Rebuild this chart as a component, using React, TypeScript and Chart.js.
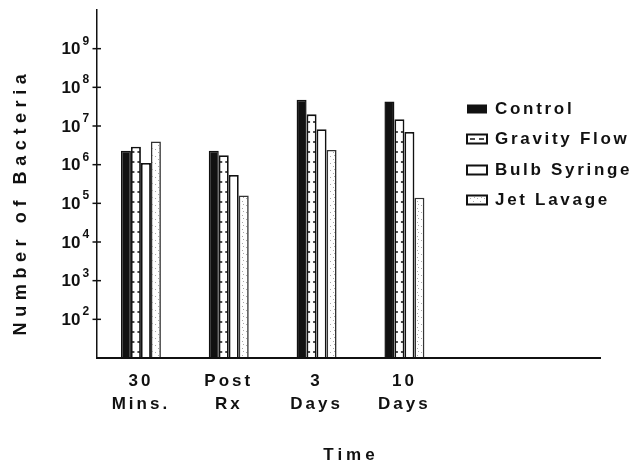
import React, { useEffect, useRef } from 'react';
import { Chart, registerables } from 'chart.js';
Chart.register(...registerables);

const categories: (string | string[])[] = [['30', 'Mins.'], ['Post', 'Rx'], ['3', 'Days'], ['10', 'Days'], '', ''];
const seriesNames = ['Control', 'Gravity Flow', 'Bulb Syringe', 'Jet Lavage'];
const control = [2.3e6, 2.3e6, 4.8e7, 4.3e7];
const gravityFlow = [2.9e6, 1.75e6, 2.0e7, 1.5e7];
const bulbSyringe = [1.1e6, 5.4e5, 8.3e6, 7.0e6];
const jetLavage = [4.0e6, 1.6e5, 2.4e6, 1.4e5];
const yTickExponents = [2, 3, 4, 5, 6, 7, 8, 9];
const yMin = 1e1;
const yMax = 1e10;
const yTitle = 'Number of Bacteria';
const xTitle = 'Time';

const FONT = '"Liberation Sans", Arial, sans-serif';
const INK = '#111';

function makeStipple(): CanvasPattern | string {
  const c = document.createElement('canvas');
  c.width = 7;
  c.height = 7;
  const g = c.getContext('2d');
  if (!g) return '#f3f3f3';
  g.fillStyle = '#ffffff';
  g.fillRect(0, 0, 7, 7);
  g.fillStyle = '#a8a8a8';
  g.fillRect(1, 2, 1, 1);
  g.fillRect(4, 5, 1, 1);
  g.fillRect(5, 1, 1, 1);
  const p = g.createPattern(c, 'repeat');
  return p || '#f3f3f3';
}

const decor = {
  id: 'decor',
  beforeDraw(chart: any) {
    chart.ctx.letterSpacing = '3px';
  },
  afterDatasetsDraw(chart: any) {
    const ctx = chart.ctx;
    const meta = chart.getDatasetMeta(1);
    ctx.save();
    ctx.strokeStyle = INK;
    ctx.lineWidth = 1.6;
    meta.data.forEach((el: any) => {
      const { x, y, base, width } = el.getProps(['x', 'y', 'base', 'width'], true);
      for (let yy = base - 6; yy > y + 5; yy -= 10) {
        ctx.beginPath();
        ctx.moveTo(x - width / 2 + 1, yy);
        ctx.lineTo(x - 1.5, yy);
        ctx.moveTo(x + 1.5, yy);
        ctx.lineTo(x + width / 2 - 1, yy);
        ctx.stroke();
      }
    });
    ctx.restore();
  },
  afterDraw(chart: any) {
    const ctx = chart.ctx;
    const area = chart.chartArea;
    const ys = chart.scales.y;
    ctx.save();
    ctx.letterSpacing = '0px';
    // x axis line (stops short of the right edge)
    ctx.strokeStyle = INK;
    ctx.lineWidth = 2;
    ctx.beginPath();
    ctx.moveTo(area.left - 1, area.bottom);
    ctx.lineTo(601, area.bottom);
    ctx.stroke();
    // y ticks with superscript labels
    ctx.lineWidth = 1.5;
    ctx.fillStyle = INK;
    yTickExponents.forEach((e) => {
      const py = ys.getPixelForValue(Math.pow(10, e));
      ctx.beginPath();
      ctx.moveTo(area.left - 4.5, py);
      ctx.lineTo(area.left + 4, py);
      ctx.stroke();
      ctx.font = `bold 17px ${FONT}`;
      ctx.textAlign = 'right';
      ctx.textBaseline = 'middle';
      ctx.fillText('10', 80.5, py + 1);
      ctx.font = `bold 12px ${FONT}`;
      ctx.textAlign = 'left';
      ctx.textBaseline = 'alphabetic';
      ctx.fillText(String(e), 82.5, py - 4);
    });
    // y title
    ctx.save();
    ctx.translate(21, 202);
    ctx.rotate(-Math.PI / 2);
    ctx.font = `bold 18px ${FONT}`;
    ctx.letterSpacing = '5.6px';
    ctx.textAlign = 'center';
    ctx.textBaseline = 'middle';
    ctx.fillText(yTitle, 0, 0);
    ctx.restore();
    // x title
    ctx.font = `bold 17px ${FONT}`;
    ctx.letterSpacing = '4px';
    ctx.textAlign = 'center';
    ctx.textBaseline = 'middle';
    ctx.fillText(xTitle, 351, 455);
    // legend
    const ly = [109, 139, 170, 200];
    const datasets = chart.data.datasets;
    seriesNames.forEach((name, i) => {
      const cy = ly[i];
      const bx = 467;
      const bw = 20;
      const bh = 9;
      ctx.lineWidth = 2;
      ctx.strokeStyle = INK;
      if (i === 0) {
        ctx.fillStyle = INK;
        ctx.fillRect(bx, cy - bh / 2, bw, bh);
      } else {
        ctx.fillStyle = i === 3 ? datasets[3].backgroundColor : '#fff';
        ctx.fillRect(bx, cy - bh / 2, bw, bh);
        ctx.strokeRect(bx, cy - bh / 2, bw, bh);
        if (i === 1) {
          ctx.lineWidth = 1.6;
          ctx.beginPath();
          ctx.moveTo(bx + 3, cy);
          ctx.lineTo(bx + 8, cy);
          ctx.moveTo(bx + 12, cy);
          ctx.lineTo(bx + 17, cy);
          ctx.stroke();
        }
      }
      ctx.fillStyle = INK;
      ctx.font = `bold 17px ${FONT}`;
      ctx.letterSpacing = '2.7px';
      ctx.textAlign = 'left';
      ctx.textBaseline = 'middle';
      ctx.fillText(name, 495, cy);
    });
    ctx.restore();
  },
};

export default function App() {
  const ref = useRef<HTMLCanvasElement | null>(null);
  useEffect(() => {
    if (!ref.current) return;
    const stipple = makeStipple();
    const chart = new Chart(ref.current, {
      type: 'bar',
      data: {
        labels: categories as any,
        datasets: [
          { label: seriesNames[0], data: control, backgroundColor: INK, borderColor: INK, borderWidth: 1.5 },
          { label: seriesNames[1], data: gravityFlow, backgroundColor: '#fff', borderColor: INK, borderWidth: 1.8 },
          { label: seriesNames[2], data: bulbSyringe, backgroundColor: '#fff', borderColor: INK, borderWidth: 1.8 },
          { label: seriesNames[3], data: jetLavage, backgroundColor: stipple as any, borderColor: '#333', borderWidth: 1.6 },
        ],
      },
      options: {
        animation: false,
        responsive: true,
        maintainAspectRatio: false,
        layout: { padding: { left: 0, top: 10, right: 11, bottom: 0 } },
        plugins: { legend: { display: false }, tooltip: { enabled: false } },
        datasets: { bar: { categoryPercentage: 0.455, barPercentage: 1 } },
        scales: {
          x: {
            grid: { display: false, drawTicks: false },
            border: { display: false },
            ticks: {
              color: INK,
              padding: 12,
              maxRotation: 0,
              autoSkip: false,
              font: { family: FONT, size: 17, weight: 'bold', lineHeight: 1.35 },
            },
            afterFit: (s: any) => {
              s.height = 107;
            },
          },
          y: {
            type: 'logarithmic',
            min: yMin,
            max: yMax,
            afterBuildTicks: (s: any) => {
              s.ticks = yTickExponents.map((e) => ({ value: Math.pow(10, e) }));
            },
            ticks: { display: false },
            grid: { display: false },
            border: { display: true, color: INK, width: 1.5 },
            afterFit: (s: any) => {
              s.width = 97;
            },
          },
        },
      },
      plugins: [decor],
    });
    return () => chart.destroy();
  }, []);
  return (
    <div style={{ position: 'fixed', left: 0, top: 0, width: 635, height: 465, background: '#fff' }}>
      <canvas ref={ref} />
    </div>
  );
}
